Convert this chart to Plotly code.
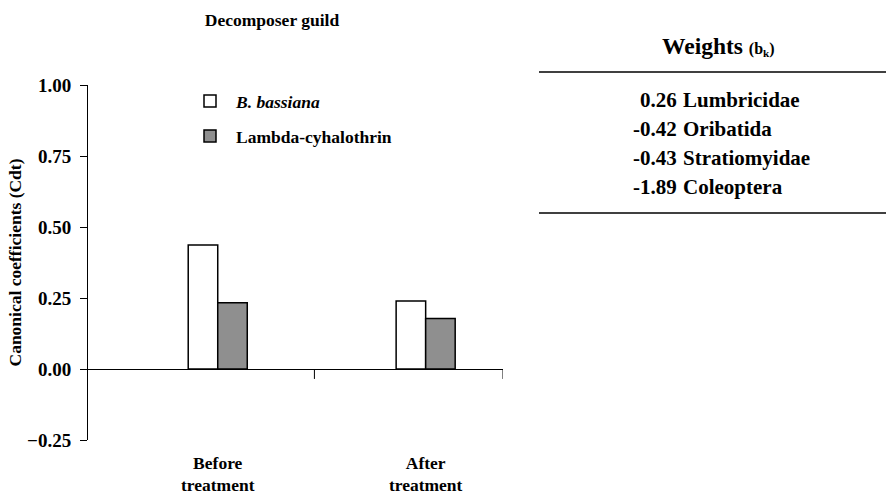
import plotly.graph_objects as go

# ---- data ----
categories = ["Before<br>treatment", "After<br>treatment"]
b_bassiana = [0.437, 0.239]
lambda_cyhalothrin = [0.233, 0.178]
y_tickvals = [-0.25, 0.0, 0.25, 0.50, 0.75, 1.00]
weights = ["0.26", "-0.42", "-0.43", "-1.89"]
taxa = ["Lumbricidae", "Oribatida", "Stratiomyidae", "Coleoptera"]

W, H = 886, 494
L, R, T, B = 88, 503, 85, 440  # plot area in pixels


def px(x):
    return (x - L) / (R - L)


def py(y):
    return (B - y) / (B - T)


FONT = "Liberation Serif, Times New Roman, serif"

fig = go.Figure()
fig.add_trace(go.Bar(
    x=categories, y=b_bassiana, name="<i>B. bassiana</i>",
    marker=dict(color="white", line=dict(color="black", width=1.5)),
    legend="legend", showlegend=True,
))
fig.add_trace(go.Bar(
    x=categories, y=lambda_cyhalothrin, name="Lambda-cyhalothrin",
    marker=dict(color="#8f8f8f", line=dict(color="black", width=1.5)),
    legend="legend2", showlegend=True,
))

shapes = []
# x-axis tick marks on the zero line
for xv in [0.465, 1.372]:
    shapes.append(dict(type="line", xref="x", yref="y", x0=xv, x1=xv, y0=0, y1=-0.035,
                       line=dict(color="black", width=1)))
# table rules
for yy in [72, 213]:
    shapes.append(dict(type="line", xref="paper", yref="paper", x0=px(539), x1=px(886),
                       y0=py(yy), y1=py(yy), line=dict(color="black", width=1.5)))

annotations = [dict(
    xref="paper", yref="paper", x=px(718), y=py(46), xanchor="center", yanchor="middle",
    text="Weights <span style='font-size:16px'>(b<sub>k</sub>)</span>", showarrow=False,
    font=dict(family=FONT, size=23.5, color="black", weight="bold"),
)]
row_y = [100, 129, 158, 187]
for w, t, yy in zip(weights, taxa, row_y):
    annotations.append(dict(xref="paper", yref="paper", x=px(679), y=py(yy), xanchor="right",
                            yanchor="middle", text=w, showarrow=False,
                            font=dict(family=FONT, size=21, color="black", weight="bold")))
    annotations.append(dict(xref="paper", yref="paper", x=px(681), y=py(yy), xanchor="left",
                            yanchor="middle", text=t, showarrow=False,
                            font=dict(family=FONT, size=21, color="black", weight="bold")))

legend_font = dict(family=FONT, size=17.5, color="black", weight="bold")

fig.update_layout(
    width=W, height=H,
    margin=dict(l=L, r=W - R, t=T, b=H - B, pad=0, autoexpand=False),
    paper_bgcolor="white", plot_bgcolor="white",
    showlegend=True,
    barmode="group", bargap=0.716, bargroupgap=0,
    title=dict(text="Decomposer guild", x=272 / W, y=1 - 20 / H, xref="container",
               yref="container", xanchor="center", yanchor="middle",
               font=dict(family=FONT, size=17.5, color="black", weight="bold")),
    legend=dict(x=px(184), y=py(83), xanchor="left", yanchor="top", bgcolor="rgba(0,0,0,0)",
                font=legend_font, itemwidth=42),
    legend2=dict(x=px(184), y=py(118), xanchor="left", yanchor="top", bgcolor="rgba(0,0,0,0)",
                 font=legend_font, itemwidth=42),
    xaxis=dict(type="category", range=[-0.624, 1.372], showline=False, showgrid=False,
               zeroline=False, ticks="", ticklabelstandoff=10, automargin=False,
               tickfont=dict(family=FONT, size=17.5, color="black", weight="bold")),
    yaxis=dict(range=[-0.25, 1.0], tickvals=y_tickvals, tickformat=".2f", automargin=False,
               showline=True, linecolor="black", linewidth=1, ticklabelstandoff=5,
               ticks="outside", ticklen=7, tickcolor="black", tickwidth=1,
               zeroline=True, zerolinecolor="black", zerolinewidth=1, showgrid=False,
               tickfont=dict(family=FONT, size=19, color="black", weight="bold"),
               title=dict(text="Canonical coefficients (Cdt)", standoff=0,
                          font=dict(family=FONT, size=17.5, color="black", weight="bold"))),
    shapes=shapes, annotations=annotations,
)

fig.write_html("out.html", config={"displayModeBar": False},
               post_script="document.body.style.margin='0';")
